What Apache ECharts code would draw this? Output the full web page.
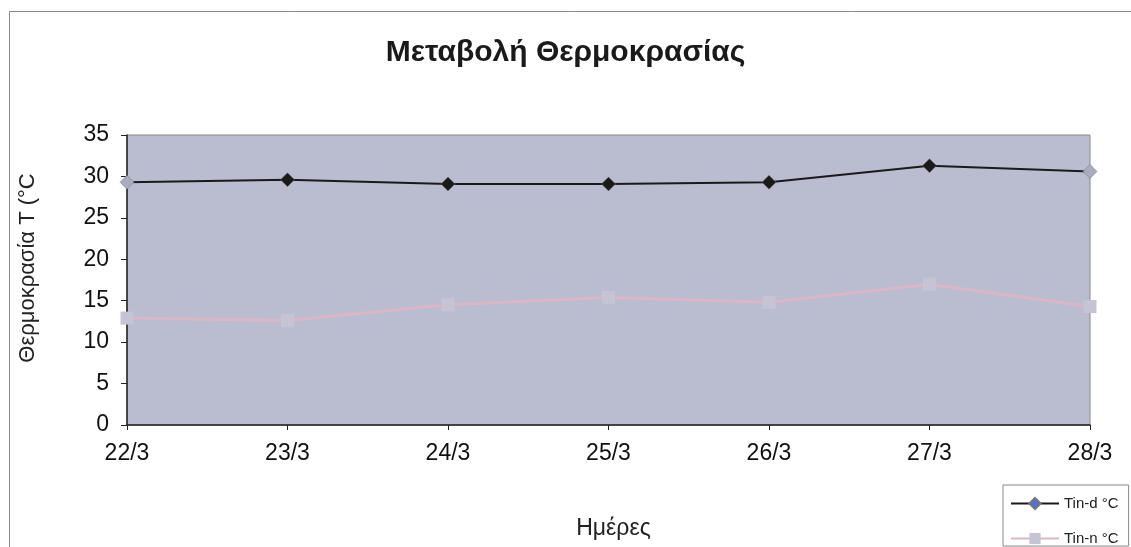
<!DOCTYPE html>
<html><head><meta charset="utf-8">
<script src="https://cdn.jsdelivr.net/npm/echarts@6/dist/echarts.min.js"></script>
<style>html,body{margin:0;padding:0;background:#fff}#c{width:1131px;height:547px}</style>
</head><body><div id="c"></div>
<script>
const categories = ['22/3','23/3','24/3','25/3','26/3','27/3','28/3'];
const tinD = [29.3, 29.6, 29.1, 29.1, 29.3, 31.3, 30.6];
const tinN = [12.9, 12.6, 14.5, 15.4, 14.8, 17.0, 14.3];
const yTicks = [0, 5, 10, 15, 20, 25, 30, 35];

const chart = echarts.init(document.getElementById('c'));
const font = '"Liberation Sans", Arial, sans-serif';
chart.setOption({
  backgroundColor: '#ffffff',
  animation: false,
  title: {
    text: 'Μεταβολή Θερμοκρασίας', left: 'center', top: 33,
    textStyle: {fontFamily: font, fontSize: 30, fontWeight: 'bold', color: '#1a1a1a'}
  },
  graphic: [{
    type: 'rect', shape: {x: 9.5, y: 11.5, width: 1200, height: 600},
    style: {fill: null, stroke: '#8a8a8a', lineWidth: 1}, silent: true, z: -1
  }],
  legend: {
    orient: 'vertical', left: 1003, top: 485, padding: [11, 10, 0, 7],
    backgroundColor: '#fff', borderColor: '#888', borderWidth: 1,
    itemWidth: 48, itemHeight: 14, itemGap: 20,
    textStyle: {fontFamily: font, fontSize: 15, color: '#222'},
    data: ['Tin-d °C', 'Tin-n °C']
  },
  grid: {left: 127, right: 41, top: 135, bottom: 122, show: true, outerBoundsMode: 'none',
         containLabel: false,
         backgroundColor: '#babdd0', borderColor: '#888', borderWidth: 1},
  xAxis: {
    type: 'category', data: categories, boundaryGap: false,
    name: 'Ημέρες', nameLocation: 'middle', nameGap: 92,
    nameTextStyle: {fontFamily: font, fontSize: 23, color: '#222', padding: [0, 0, 0, 10]},
    axisLine: {lineStyle: {color: '#222', width: 1.5}},
    axisTick: {alignWithLabel: true, length: 5, lineStyle: {color: '#222'}},
    axisLabel: {fontFamily: font, fontSize: 23, color: '#111', margin: 17},
    splitLine: {show: false}
  },
  yAxis: {
    type: 'value', min: yTicks[0], max: yTicks[yTicks.length - 1], interval: 5,
    name: 'Θερμοκρασία Τ (°C', nameLocation: 'middle', nameGap: 88, nameRotate: 90,
    nameTextStyle: {fontFamily: font, fontSize: 22, color: '#222', padding: [0, 0, 0, 24]},
    axisLine: {show: true, lineStyle: {color: '#222', width: 1.5}},
    axisTick: {show: true, length: 6, lineStyle: {color: '#222'}},
    axisLabel: {fontFamily: font, fontSize: 23, color: '#111', margin: 18},
    splitLine: {show: false}
  },
  series: [{
    name: 'Tin-d °C', type: 'line', data: tinD,
    symbol: 'diamond', symbolSize: 14,
    lineStyle: {color: '#1a1a1a', width: 2},
    itemStyle: {color: function (p) { return (p.dataIndex === 0 || p.dataIndex === tinD.length - 1) ? '#a9abc0' : '#1a1a1a'; },
                borderColor: '#777', borderWidth: 0.5},
    z: 3
  }, {
    name: 'Tin-n °C', type: 'line', data: tinN,
    symbol: 'rect', symbolSize: 13,
    lineStyle: {color: '#dcb6c6', width: 3},
    itemStyle: {color: '#c6c4d4', borderWidth: 0},
    z: 2
  }]
});
</script></body></html>
